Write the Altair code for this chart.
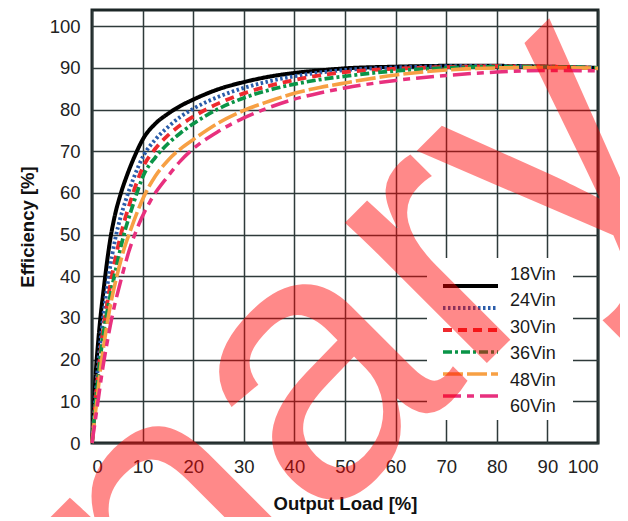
import altair as alt
import pandas as pd

series = ["18Vin", "24Vin", "30Vin", "36Vin", "48Vin", "60Vin"]
colors = ["#000000", "#2a5caa", "#ee2a2e", "#0a9447", "#f7a044", "#e8307e"]
dashes = [[1, 0], [2.5, 2.5], [9, 6], [9, 3, 3, 3], [20, 4], [18, 6, 7, 6]]
widths = [4, 3.5, 3.5, 3.5, 3.5, 3.5]

load_18 = [0, 0.3, 0.7, 1.2, 1.7, 2.3, 2.9, 3.6, 4.5, 5.6, 7, 8.5, 10.2, 12.5, 15, 17.5, 20, 25, 30, 35, 40, 45, 50, 60, 70, 80, 90, 100]
eff_18 = [0, 6, 16, 24, 30.5, 36.8, 42.8, 48.8, 54.5, 59.5, 64.5, 69, 73.2, 76.6, 79, 80.9, 82.4, 84.9, 86.6, 87.9, 88.8, 89.4, 89.9, 90.3, 90.5, 90.5, 90.3, 90.0]

load_24 = [0, 0.4, 0.8, 1.3, 1.9, 2.6, 3.3, 4.6, 5.6, 6.6, 8.2, 10.2, 12.5, 15, 17.5, 20, 25, 30, 35, 40, 45, 50, 60, 70, 80, 90, 100]
eff_24 = [0, 6.5, 13, 20, 27, 34, 40, 49, 54, 58, 63.5, 69, 72.8, 75.8, 78.3, 80.2, 83.1, 85.2, 86.8, 88.0, 88.9, 89.5, 90.1, 90.4, 90.5, 90.3, 90.0]

load_30 = [0, 0.4, 0.9, 1.5, 2.2, 3.0, 4.0, 5.6, 7.6, 10.2, 12.5, 15, 17.5, 20, 25, 30, 35, 40, 45, 50, 60, 70, 80, 90, 100]
eff_30 = [0, 6, 13, 20, 27, 33.5, 40.5, 49.5, 58, 66.5, 70.6, 73.8, 76.3, 78.3, 81.5, 83.9, 85.7, 87.1, 88.2, 89.0, 89.8, 90.2, 90.4, 90.3, 90.0]

load_36 = [0, 0.4, 0.9, 1.5, 2.3, 3.3, 4.5, 6.2, 8.2, 10.2, 12.5, 15, 17.5, 20, 25, 30, 35, 40, 45, 50, 60, 70, 80, 90, 100]
eff_36 = [0, 5.5, 12, 19, 26.5, 33.5, 40.5, 49.5, 57.5, 64.3, 68.5, 71.8, 74.4, 76.6, 80.2, 82.8, 84.7, 86.1, 87.2, 88.0, 89.3, 90.0, 90.3, 90.3, 90.0]

load_48 = [0, 0.5, 1.0, 1.6, 2.4, 3.4, 4.9, 6.2, 7.6, 10.2, 12.5, 15, 17.5, 20, 25, 30, 35, 40, 45, 50, 60, 70, 80, 90, 100]
eff_48 = [0, 5.5, 10.5, 17, 24, 31.5, 40, 46, 51, 59, 64, 67.8, 70.6, 72.8, 76.8, 79.8, 82.0, 83.9, 85.3, 86.4, 88.3, 89.5, 90.0, 90.1, 89.9]

load_60 = [0, 0.6, 1.3, 2.0, 2.9, 4.0, 5.7, 7.3, 9.2, 11.5, 15, 17.5, 20, 25, 30, 35, 40, 45, 50, 60, 70, 80, 90, 100]
eff_60 = [0, 5, 11, 17, 23.5, 30.5, 39, 46, 52.3, 58, 64, 67.7, 70.6, 74.8, 78.0, 80.5, 82.5, 84.0, 85.2, 87.0, 88.2, 89.0, 89.4, 89.3]

x_ticks = [0, 10, 20, 30, 40, 50, 60, 70, 80, 90, 100]
y_ticks = [0, 10, 20, 30, 40, 50, 60, 70, 80, 90, 100]
x_title = "Output Load [%]"
y_title = "Efficiency [%]"
watermark = "Preliminary"

loads = [load_18, load_24, load_30, load_36, load_48, load_60]
effs = [eff_18, eff_24, eff_30, eff_36, eff_48, eff_60]
rows = []
for s, xs, ys in zip(series, loads, effs):
    for i, (a, b) in enumerate(zip(xs, ys)):
        rows.append({"series": s, "load": a, "eff": b, "i": i})
df = pd.DataFrame(rows)

FONT = "Liberation Sans"

color_enc = alt.Color("series:N", scale=alt.Scale(domain=series, range=colors), legend=None)
dash_enc = alt.StrokeDash("series:N", scale=alt.Scale(domain=series, range=dashes), legend=None)
width_enc = alt.StrokeWidth("series:N", scale=alt.Scale(domain=series, range=widths), legend=None)

lines = alt.Chart(df).mark_line(interpolate="monotone", strokeCap="butt").encode(
    x=alt.X("load:Q", scale=alt.Scale(domain=[0, 100], nice=False),
            axis=alt.Axis(values=x_ticks, title=x_title, labelPadding=14, titlePadding=19)),
    y=alt.Y("eff:Q", scale=alt.Scale(domain=[0, 103.9], nice=False),
            axis=alt.Axis(values=y_ticks, title=y_title, labelPadding=12, titlePadding=12)),
    color=color_enc,
    strokeDash=dash_enc,
    strokeWidth=width_enc,
    order="i:Q",
)

leg_bg = alt.Chart(pd.DataFrame({"k": [0]})).mark_rect(fill="white").encode(
    x=alt.value(335), x2=alt.value(481), y=alt.value(248), y2=alt.value(410)
)

leg_df = pd.DataFrame({"series": series})
leg_y = alt.Y("series:N", scale=alt.Scale(domain=series, range=[265, 397], padding=0), axis=None)
leg_rules = alt.Chart(leg_df).mark_rule(strokeCap="butt").encode(
    x=alt.value(351), x2=alt.value(406), y=leg_y,
    color=color_enc, strokeDash=dash_enc, strokeWidth=width_enc,
)
leg_text = alt.Chart(leg_df).mark_text(align="left", baseline="middle", fontSize=18, font=FONT, color="#1a1a1a").encode(
    x=alt.value(418), y=leg_y, text="series:N"
)

wm = alt.Chart(pd.DataFrame({"t": [watermark]})).mark_text(
    align="right", baseline="alphabetic", angle=315, fontSize=378, font=FONT,
    color="#ff0000", opacity=0.46,
).encode(x=alt.value(599), y=alt.value(149), text="t:N")

chart = alt.layer(lines, leg_bg, leg_rules, leg_text, wm).resolve_scale(
    y="independent"
).properties(
    width=506, height=433,
    autosize=alt.AutoSizeParams(type="none"),
    padding={"left": 84, "top": 2, "right": 22, "bottom": 74},
).configure_view(
    stroke="#1c2626", strokeWidth=3
).configure_axis(
    grid=True, gridColor="#2e3a3a", gridWidth=1.5, domain=False, ticks=False,
    labelFont=FONT, labelFontSize=18.5, labelColor="#222222",
    titleFont=FONT, titleFontSize=18.5, titleFontWeight="bold", titleColor="#111111",
)

chart.save("out.html", embed_options={"renderer": "svg", "actions": False})
